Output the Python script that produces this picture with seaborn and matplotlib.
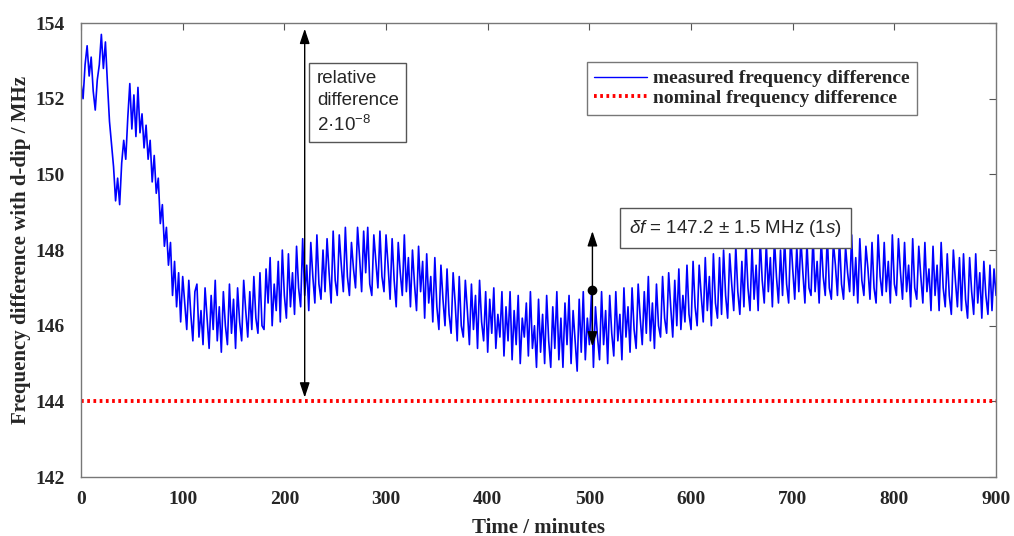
import numpy as np
import pandas as pd
import seaborn as sns
import matplotlib.pyplot as plt

# valori (un punto ogni 2 minuti, 15 punti per riga = 30 minuti)
tempo_passo = 2
freq_misurata = [
    152.4, 152.0, 152.9, 153.4, 152.6, 153.1, 152.2, 151.7, 152.5, 152.9, 153.7, 152.8, 153.5, 152.4, 151.4,
    150.8, 150.2, 149.3, 149.9, 149.2, 150.3, 150.9, 150.4, 151.5, 152.4, 151.2, 152.1, 151.0, 152.3, 151.1,
    151.6, 150.7, 151.3, 150.4, 150.9, 149.8, 150.5, 149.5, 149.9, 148.7, 149.2, 148.1, 148.6, 147.6, 148.2,
    146.8, 147.7, 146.5, 147.4, 146.1, 147.3, 146.6, 145.9, 147.2, 146.3, 145.6, 146.9, 147.1, 145.7, 146.4,
    145.5, 147.0, 146.2, 145.4, 146.8, 145.9, 147.2, 145.6, 146.5, 145.3, 146.9, 146.0, 145.5, 147.1, 145.8,
    146.7, 145.4, 147.0, 146.1, 145.6, 147.2, 146.4, 145.7, 146.9, 145.9, 147.3, 146.2, 145.8, 147.4, 146.0,
    145.9, 147.5, 146.6, 147.8, 146.0, 147.1, 146.4, 147.7, 146.1, 148.0, 146.8, 146.2, 147.9, 146.5, 147.4,
    146.3, 148.1, 147.0, 146.5, 148.3, 146.8, 147.6, 146.4, 148.2, 147.3, 146.6, 148.4, 147.1, 146.7, 148.0,
    146.9, 148.3, 147.4, 146.6, 148.5, 147.2, 146.8, 148.4, 147.6, 146.9, 148.6, 147.3, 146.8, 148.2, 147.5,
    147.0, 148.6, 147.8, 146.9, 148.5, 147.4, 148.6, 147.1, 146.8, 148.4, 147.7, 147.0, 148.5, 147.3, 146.9,
    148.4, 147.6, 146.7, 148.3, 147.2, 146.5, 148.2, 147.4, 146.8, 148.4, 146.9, 147.8, 146.5, 148.0, 147.1,
    146.4, 148.1, 146.9, 147.7, 146.2, 147.9, 146.6, 147.3, 146.1, 147.8, 146.5, 145.9, 147.6, 146.7, 146.0,
    147.5, 146.3, 145.8, 147.4, 146.6, 145.6, 147.3, 146.0, 145.7, 147.2, 146.4, 145.5, 147.1, 145.9, 146.8,
    145.4, 147.2, 146.1, 145.6, 146.9, 145.3, 146.7, 145.8, 147.0, 145.4, 146.3, 145.7, 146.9, 145.2, 146.5,
    145.6, 146.9, 145.1, 146.4, 145.5, 146.8, 145.0, 146.2, 145.7, 146.6, 145.2, 146.9, 145.4, 146.0, 144.9,
    146.7, 145.3, 146.3, 145.0, 146.8, 145.6, 144.9, 146.5, 145.4, 146.9, 145.1, 146.2, 144.9, 146.6, 145.5,
    146.8, 145.0, 146.4, 145.6, 144.8, 146.7, 145.3, 146.9, 145.1, 146.2, 145.5, 146.8, 144.9, 146.5, 145.7,
    145.1, 146.9, 145.5, 146.4, 145.0, 146.8, 145.8, 145.2, 146.9, 145.6, 146.3, 145.1, 147.0, 145.7, 146.5,
    145.3, 147.0, 145.9, 145.4, 147.1, 146.2, 145.5, 146.9, 145.8, 147.3, 145.6, 146.6, 145.4, 147.1, 146.0,
    145.7, 147.3, 146.2, 145.8, 147.4, 146.5, 145.7, 147.2, 146.0, 147.5, 145.9, 146.8, 146.1, 147.6, 146.3,
    145.9, 147.7, 146.5, 146.0, 147.6, 146.8, 146.1, 147.8, 146.4, 147.3, 146.0, 147.9, 146.6, 146.2, 147.8,
    146.3, 148.0, 146.8, 146.2, 147.9, 147.1, 146.4, 148.1, 146.9, 146.3, 147.7, 146.5, 148.2, 147.0, 146.4,
    148.1, 146.7, 147.6, 146.4, 148.3, 147.2, 146.6, 148.2, 146.9, 147.8, 146.5, 148.3, 147.3, 146.6, 148.0,
    146.8, 148.3, 147.1, 146.6, 148.4, 147.5, 146.7, 148.1, 146.9, 148.3, 147.4, 146.6, 148.2, 147.0, 146.8,
    148.4, 146.9, 147.7, 146.6, 148.3, 147.3, 146.8, 148.4, 147.0, 146.7, 148.2, 147.6, 146.8, 148.3, 147.1,
    146.7, 148.1, 147.4, 146.9, 148.4, 146.8, 147.8, 146.6, 148.3, 147.2, 146.8, 148.1, 147.5, 146.7, 148.2,
    147.0, 146.6, 148.4, 147.3, 146.8, 148.2, 146.9, 147.7, 146.6, 148.4, 147.1, 146.8, 148.3, 147.4, 146.7,
    148.2, 146.9, 147.6, 146.5, 148.3, 147.0, 146.7, 148.1, 147.3, 146.6, 148.2, 146.9, 147.5, 146.4, 148.1,
    146.8, 147.6, 146.4, 148.2, 147.0, 146.5, 147.9, 146.8, 146.3, 148.0, 147.2, 146.5, 147.8, 146.4, 147.9,
    146.7, 146.2, 147.8, 146.9, 146.3, 147.9, 146.6, 147.4, 146.2, 147.7, 146.8, 146.3, 147.6, 146.4, 147.5,
    146.8,
]
freq_nominale = 144.0

# annotazioni
freccia_rel_t = 220
freccia_rel_y = (144.1, 153.85)
testo_rel = "relative\ndifference\n2\u00b710$^{-8}$"
punto_df_t = 503
punto_df_y = 146.95
freccia_df_y = (148.5, 145.45)
testo_df = "$\\delta f$ = 147.2 \u00b1 1.5 MHz (1$s$)"

tempi = np.arange(len(freq_misurata)) * tempo_passo
df = pd.DataFrame({'Tempo': tempi, 'Freq': freq_misurata})
df_nom = pd.DataFrame({'Tempo': [0, 900], 'Freq': [freq_nominale, freq_nominale]})

sns.set_style("white")
plt.rcParams['font.family'] = ['Liberation Serif', 'DejaVu Serif']
plt.rcParams['mathtext.fontset'] = 'custom'
plt.rcParams['mathtext.rm'] = 'Liberation Sans'
plt.rcParams['mathtext.it'] = 'Liberation Sans:italic'

fig = plt.figure(figsize=(10.14, 5.36), dpi=100)
ax = fig.add_axes([0.0799, 0.110, 0.9024, 0.847])

sns.lineplot(data=df, x='Tempo', y='Freq', ax=ax, color='#0000ff', linewidth=1.2,
             label='measured frequency difference')
sns.lineplot(data=df_nom, x='Tempo', y='Freq', ax=ax, color='#ff0000', linewidth=2.8,
             linestyle=(0, (0.7, 0.9)), label='nominal frequency difference')

ax.set_xlim(0, 900)
ax.set_ylim(142, 154)
ax.set_xticks(range(0, 901, 100))
ax.set_yticks(range(142, 155, 2))
ax.tick_params(direction='in', top=True, right=True, length=5, width=0.8,
               color='#555555', labelsize=14)
ax.tick_params(axis='x', pad=10)
ax.tick_params(axis='y', pad=12)
for lab in ax.get_xticklabels() + ax.get_yticklabels():
    lab.set_fontweight('bold')
for sp in ax.spines.values():
    sp.set_color('#777777')
    sp.set_linewidth(1.0)

ax.set_xlabel("Time / minutes", fontsize=15, fontweight='bold', labelpad=7)
ax.set_ylabel("Frequency difference with d-dip / MHz", fontsize=15, fontweight='bold', labelpad=3)

leg = ax.legend(loc='upper right', bbox_to_anchor=(0.9137, 0.914), borderaxespad=0,
                fancybox=False, framealpha=1, edgecolor='#777777',
                prop={'weight': 'bold', 'size': 14},
                handlelength=2.7, borderpad=0.4, labelspacing=0.1, handletextpad=0.3)
leg.get_frame().set_linewidth(1.0)
for h in leg.get_lines():
    h.set_linewidth(h.get_linewidth())
leg.get_lines()[0].set_linewidth(1.0)

# freccia doppia "relative difference"
ax.annotate('', xy=(freccia_rel_t, freccia_rel_y[1]), xytext=(freccia_rel_t, freccia_rel_y[0]),
            arrowprops=dict(arrowstyle='<|-|>,head_length=0.9,head_width=0.3',
                            color='black', lw=1.0, shrinkA=0, shrinkB=0))
ax.text(232, 152.75, testo_rel, fontsize=13.5, family='Liberation Sans', va='top', ha='left',
        linespacing=1.35,
        bbox=dict(boxstyle='square,pad=0.4', facecolor='white', edgecolor='#555555', lw=1.0))

# punto con barra d'errore
ax.annotate('', xy=(punto_df_t, freccia_df_y[0]), xytext=(punto_df_t, punto_df_y),
            arrowprops=dict(arrowstyle='-|>,head_length=0.9,head_width=0.3',
                            color='black', lw=1.0, shrinkA=0, shrinkB=0))
ax.annotate('', xy=(punto_df_t, freccia_df_y[1]), xytext=(punto_df_t, punto_df_y),
            arrowprops=dict(arrowstyle='-|>,head_length=0.9,head_width=0.3',
                            color='black', lw=1.0, shrinkA=0, shrinkB=0))
ax.plot([punto_df_t], [punto_df_y], 'o', color='black', markersize=6)
ax.text(539, 148.58, testo_df, fontsize=13.5, family='Liberation Sans', va='center', ha='left',
        bbox=dict(boxstyle='square,pad=0.5', facecolor='white', edgecolor='#555555', lw=1.0))

plt.savefig('out.png', dpi=100)
